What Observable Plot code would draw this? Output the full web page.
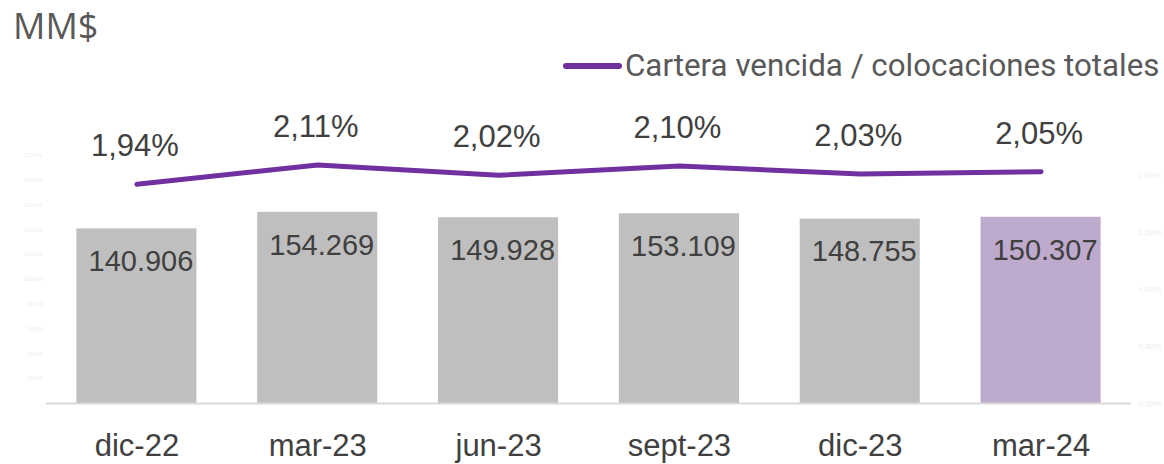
<!DOCTYPE html>
<html>
<head>
<meta charset="utf-8">
<script src="https://cdn.jsdelivr.net/npm/d3@7"></script>
<script src="https://cdn.jsdelivr.net/npm/@observablehq/plot@0.6"></script>
<style>
  html, body { margin: 0; padding: 0; background: #fff; }
  #wrap { position: relative; width: 1164px; height: 464px; overflow: hidden; }
  #title { position: absolute; left: 13px; top: 8px; font: 36px "Open Sans", sans-serif; color: #595959; line-height: 1; }
  #legend { position: absolute; left: 563px; top: 50px; display: flex; align-items: center; font: 31.3px Roboto, sans-serif; color: #595959; line-height: 1; }
  #legend .sw { width: 59px; height: 6px; border-radius: 3px; background: #7030A0; margin-right: 3px; }
  #chart { position: absolute; left: 0; top: 0; }
</style>
</head>
<body>
<div id="wrap">
  <div id="chart"></div>
  <div id="title">MM$</div>
  <div id="legend"><span class="sw"></span><span>Cartera vencida / colocaciones totales</span></div>
</div>
<script>
const periods = ["dic-22", "mar-23", "jun-23", "sept-23", "dic-23", "mar-24"];
const colocaciones = [140906, 154269, 149928, 153109, 148755, 150307];
const ratio = [1.94, 2.11, 2.02, 2.10, 2.03, 2.05];
const leftTicks = [20000, 40000, 60000, 80000, 100000, 120000, 140000, 160000, 180000, 200000];
const rightTicks = [0, 0.5, 1.0, 1.5, 2.0];

const K = 92000; // MM$ per y unit (left axis aligned to percent axis)
const fmtNum = d3.formatLocale({decimal: ",", thousands: ".", grouping: [3]}).format(",.0f");
const fmtPct = v => v.toFixed(2).replace(".", ",") + "%";

const data = periods.map((p, i) => ({p, v: colocaciones[i], r: ratio[i], last: i === periods.length - 1}));

const chart = Plot.plot({
  width: 1164,
  height: 464,
  marginLeft: 46,
  marginRight: 33,
  marginTop: 118,
  marginBottom: 61,
  style: {fontFamily: "'Liberation Sans', Arial, sans-serif", background: "transparent"},
  x: {domain: periods, paddingInner: 0.336, paddingOuter: 0.168, round: false, label: null},
  y: {domain: [0, 2.5], axis: null},
  marks: [
    Plot.barY(data, {x: "p", y: d => d.v / K, fill: d => d.last ? "#BEAACD" : "#BFBFBF"}),
    Plot.ruleY([0], {stroke: "#D9D9D9", strokeWidth: 2}),
    Plot.text(data, {x: "p", y: d => d.v / K, text: d => fmtNum(d.v), dy: 33, dx: 4, fontSize: 29, fill: "#404040"}),
    Plot.lineY(data, {x: "p", y: "r", dy: 2, stroke: "#7030A0", strokeWidth: 5, strokeLinecap: "round"}),
    Plot.text(data, {x: "p", y: "r", text: d => fmtPct(d.r), dy: -36, dx: -2, fontSize: 31, fill: "#404040"}),
    Plot.axisX({tickSize: 0, tickPadding: 30, fontSize: 31, color: "#404040"}),
    Plot.text(leftTicks, {y: d => d / K, text: d => fmtNum(d), frameAnchor: "left", textAnchor: "end", dx: -4, fontSize: 5, fill: "#EEEEEE"}),
    Plot.text(rightTicks, {y: d => d, text: d => fmtPct(d), frameAnchor: "right", textAnchor: "start", dx: 7, fontSize: 8, fill: "#EEEEEE"})
  ]
});
document.getElementById("chart").appendChild(chart);
</script>
</body>
</html>
